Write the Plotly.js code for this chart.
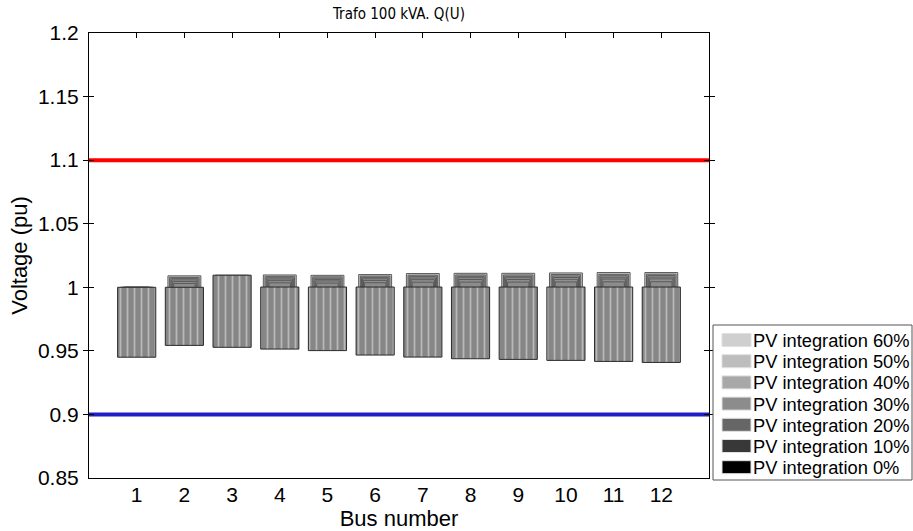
<!DOCTYPE html>
<html>
<head>
<meta charset="utf-8">
<script src="https://cdn.plot.ly/plotly-3.0.1.min.js"></script>
<style>html,body{margin:0;padding:0;background:#fff;}#chart{width:913px;height:531px;}</style>
</head>
<body>
<div id="chart"></div>
<script>
// ---- data ----
const buses = [1,2,3,4,5,6,7,8,9,10,11,12];
const levels = ['PV integration 60%','PV integration 50%','PV integration 40%','PV integration 30%','PV integration 20%','PV integration 10%','PV integration 0%'];
const legendColors = ['#cfcfcf','#bdbdbd','#a8a8a8','#8c8c8c','#666666','#383838','#000000'];
// max voltage (pu) per bus for each PV level
const max60 = [1.0000,1.0090,1.0095,1.0097,1.0094,1.0100,1.0108,1.0110,1.0110,1.0113,1.0116,1.0116];
const max50 = [1.0000,1.0078,1.0085,1.0086,1.0082,1.0088,1.0095,1.0097,1.0097,1.0100,1.0102,1.0103];
const max40 = [1.0000,1.0068,1.0076,1.0075,1.0072,1.0078,1.0084,1.0086,1.0086,1.0089,1.0091,1.0092];
const max30 = [1.0000,1.0058,1.0066,1.0065,1.0062,1.0067,1.0073,1.0075,1.0075,1.0077,1.0079,1.0080];
const max20 = [1.0000,1.0045,1.0055,1.0052,1.0050,1.0054,1.0060,1.0061,1.0061,1.0063,1.0065,1.0066];
const max10 = [1.0000,1.0030,1.0045,1.0035,1.0033,1.0036,1.0040,1.0041,1.0041,1.0042,1.0043,1.0044];
const max0  = [1.0000,1.0000,1.0095,1.0002,1.0002,1.0002,1.0002,1.0002,1.0002,1.0002,1.0002,1.0002];
// min voltage (pu) per bus
const min0  = [0.9450,0.9543,0.9528,0.9514,0.9502,0.9467,0.9451,0.9438,0.9433,0.9425,0.9417,0.9409];
const minPV = [0.9700,0.9750,0.9750,0.9740,0.9730,0.9710,0.9700,0.9690,0.9690,0.9680,0.9680,0.9670];
const upperLimit = 1.10;
const lowerLimit = 0.90;
const xRange = [0, 13];

const maxByLevel = [max60,max50,max40,max30,max20,max10,max0];
const widths = [0.69,0.62,0.57,0.53,0.49,0.45,0.80];
const fills = ['#cbcbcb','#b0b0b0','#a0a0a0','#969696','#909090','#8c8c8c','#8a8a8a'];

const traces = [];
maxByLevel.forEach((mx, i) => {
  const lo = (i === 6) ? min0 : minPV;
  const t = {
    type: 'bar',
    name: levels[i],
    x: buses,
    base: lo,
    y: mx.map((v, k) => v - lo[k]),
    width: buses.map(() => widths[i]),
    marker: {color: fills[i], line: {color: i === 6 ? '#2a2a2a' : '#5a5a5a', width: 1}},
    showlegend: false,
    hoverinfo: 'skip'
  };
  if (i === 6) {
    t.marker.pattern = {shape: '|', fgcolor: '#b8b8b8', bgcolor: '#868686', size: 7, solidity: 0.25, fillmode: 'replace'};
  }
  traces.push(t);
});
traces.push({type:'scatter', mode:'lines', x: xRange, y:[upperLimit, upperLimit], line:{color:'#ff0000', width:4}, showlegend:false, hoverinfo:'skip'});
traces.push({type:'scatter', mode:'lines', x: xRange, y:[lowerLimit, lowerLimit], line:{color:'#1f1fc4', width:4}, showlegend:false, hoverinfo:'skip'});
// invisible trace to activate top tick axis
traces.push({type:'scatter', mode:'markers', x:[-10], y:[0.9], xaxis:'x2', marker:{opacity:0}, showlegend:false, hoverinfo:'skip'});

const yTicks = [0.85,0.9,0.95,1,1.05,1.1,1.15,1.2];
const yTickText = ['0.85','0.9','0.95','1','1.05','1.1','1.15','1.2'];

const font = "'Liberation Sans', Arial, sans-serif";

// ---- manual legend (MATLAB-style, compact) ----
const M = {l: 89, r: 204, t: 33, b: 53};
const PW = 913 - M.l - M.r, PH = 531 - M.t - M.b;
const px = v => (v - M.l) / PW;
const py = v => (531 - M.b - v) / PH;
const shapes = [];
const annotations = [];
shapes.push({type:'rect', xref:'paper', yref:'paper', x0: px(713), x1: px(912), y0: py(480), y1: py(325),
  fillcolor:'#ffffff', line:{color:'#555', width:1}, layer:'above'});
levels.forEach((name, i) => {
  const cy = 340 + i * 21.2;
  shapes.push({type:'rect', xref:'paper', yref:'paper', x0: px(722), x1: px(751), y0: py(cy + 6.5), y1: py(cy - 6.5),
    fillcolor: legendColors[i], line:{color:'#e0e0e0', width:1}, layer:'above'});
  annotations.push({xref:'paper', yref:'paper', x: px(751), y: py(cy + 0.5), xanchor:'left', yanchor:'middle',
    text: name, showarrow:false, font:{family: font, size: 18.3, color:'#000'}});
});

const layout = {
  width: 913, height: 531,
  margin: {l: M.l, r: M.r, t: M.t, b: M.b, pad: 0},
  paper_bgcolor: '#ffffff', plot_bgcolor: '#ffffff',
  barmode: 'overlay', bargap: 0,
  showlegend: false,
  title: {text: 'Trafo 100 kVA. Q(U)', font: {family: "'DejaVu Sans Condensed', 'DejaVu Sans', sans-serif", size: 15, color: '#000'}, xref: 'paper', x: 0.5, xanchor: 'center', yref: 'container', y: 0.974, yanchor: 'middle'},
  xaxis: {
    range: xRange, tickmode: 'array', tickvals: buses, ticktext: buses.map(String),
    ticks: '',
    showline: true, linecolor: '#000', linewidth: 1, mirror: true,
    showgrid: false, zeroline: false, ticklabelstandoff: -2,
    tickfont: {family: font, size: 21, color: '#000'},
    title: {text: 'Bus number', font: {family: font, size: 22, color: '#000'}, standoff: 12}
  },
  xaxis2: {
    overlaying: 'x', side: 'top', range: xRange, tickmode: 'array', tickvals: buses,
    ticks: 'inside', ticklen: 5, tickcolor: '#000', tickwidth: 1,
    showticklabels: false, showline: false, showgrid: false, zeroline: false
  },
  yaxis: {
    range: [0.85, 1.2], tickmode: 'array', tickvals: yTicks, ticktext: yTickText,
    ticks: 'inside', ticklen: 5, tickcolor: '#000', tickwidth: 1,
    showline: true, linecolor: '#000', linewidth: 1, mirror: 'allticks',
    showgrid: false, zeroline: false, ticklabelstandoff: 5,
    tickfont: {family: font, size: 21, color: '#000'},
    title: {text: 'Voltage (pu)', font: {family: font, size: 22, color: '#000'}, standoff: 4}
  },
  shapes: shapes,
  annotations: annotations
};

Plotly.newPlot('chart', traces, layout, {displayModeBar: false, staticPlot: true});
</script>
</body>
</html>
